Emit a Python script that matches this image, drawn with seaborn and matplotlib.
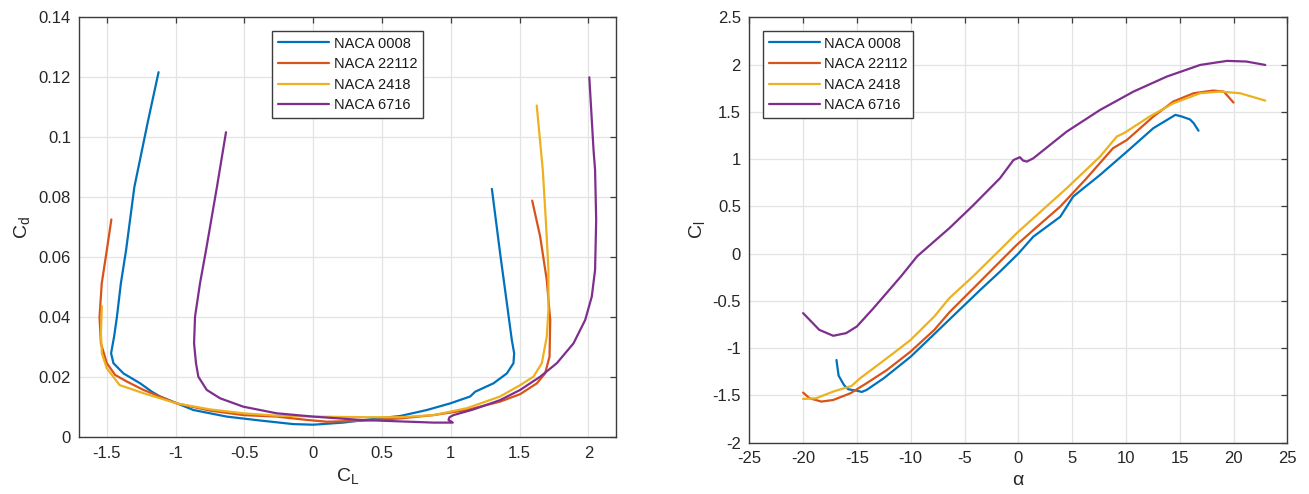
import numpy as np
import pandas as pd
import matplotlib
matplotlib.use('Agg')
import matplotlib.pyplot as plt
from matplotlib.ticker import FuncFormatter, MultipleLocator
import seaborn as sns

# airfoil names and MATLAB default colours
airfoils = ['NACA 0008', 'NACA 22112', 'NACA 2418', 'NACA 6716']
colors = ['#0072BD', '#D95319', '#EDB120', '#7E2F8E']

# drag polar data (CL, Cd), in order of increasing alpha
cl_0008 = [-1.124, -1.20, -1.30, -1.36, -1.398, -1.427, -1.447, -1.469, -1.452, -1.379, -1.258, -1.173,
           -1.113, -0.871, -0.629, -0.387, -0.145, 0.0, 0.218, 0.45, 0.632, 0.826, 0.995, 1.14, 1.177,
           1.31, 1.407, 1.455, 1.46, 1.443, 1.407, 1.358, 1.298]
cd_0008 = [0.1217, 0.1056, 0.0834, 0.0624, 0.0513, 0.040, 0.0336, 0.028, 0.0247, 0.0213, 0.018, 0.0152,
           0.0136, 0.0091, 0.0069, 0.0056, 0.0044, 0.0042, 0.0049, 0.0062, 0.0071, 0.0091, 0.0113, 0.0136,
           0.0152, 0.018, 0.0213, 0.0247, 0.028, 0.0324, 0.0447, 0.0613, 0.0828]

cl_22112 = [-1.467, -1.5, -1.537, -1.553, -1.543, -1.5, -1.44, -1.355, -1.234, -0.992, -0.75, -0.508,
            -0.266, -0.048, 0.097, 0.35, 0.632, 0.874, 1.116, 1.358, 1.504, 1.625, 1.685, 1.717, 1.722,
            1.697, 1.649, 1.591]
cd_22112 = [0.0726, 0.0624, 0.0513, 0.040, 0.0313, 0.0247, 0.0208, 0.0186, 0.0158, 0.0113, 0.0089, 0.0074,
            0.0069, 0.0058, 0.0052, 0.0055, 0.0063, 0.0074, 0.0091, 0.0119, 0.0144, 0.018, 0.0213, 0.0269,
            0.0391, 0.0524, 0.0669, 0.0789]

cl_2418 = [-1.536, -1.543, -1.536, -1.5, -1.407, -1.234, -0.992, -0.75, -0.508, -0.266, 0.0, 0.385, 0.632,
           0.874, 1.116, 1.358, 1.504, 1.6, 1.661, 1.697, 1.709, 1.709, 1.69, 1.668, 1.624]
cd_2418 = [0.0437, 0.0347, 0.028, 0.023, 0.0174, 0.0147, 0.0113, 0.0093, 0.008, 0.0072, 0.0069, 0.0067,
           0.0067, 0.0074, 0.0097, 0.0136, 0.0174, 0.0202, 0.0247, 0.0336, 0.0424, 0.0558, 0.0724, 0.0891,
           0.1106]

cl_6716 = [-0.634, -0.70, -0.779, -0.823, -0.859, -0.866, -0.852, -0.835, -0.774, -0.677, -0.508, -0.266,
           0.0, 0.339, 0.632, 0.874, 1.014, 0.983, 0.99, 1.019, 1.165, 1.358, 1.504, 1.649, 1.77, 1.891,
           1.976, 2.024, 2.048, 2.056, 2.048, 2.037, 2.006]
cd_6716 = [0.1017, 0.0834, 0.0624, 0.0513, 0.0402, 0.0313, 0.0247, 0.0202, 0.0158, 0.013, 0.0102, 0.008,
           0.0069, 0.0058, 0.0053, 0.0049, 0.0049, 0.0058, 0.0067, 0.0074, 0.0093, 0.0124, 0.0158, 0.0202,
           0.0247, 0.0313, 0.0391, 0.0469, 0.0558, 0.0724, 0.0891, 0.0956, 0.12]

# lift curve data (alpha, Cl)
al_0008 = [-16.9, -16.7, -16.2, -15.8, -15.0, -14.55, -14.1, -12.5, -10.0, -7.8, -5.7, -3.5, -1.7, 0.0,
           1.4, 3.9, 5.1, 7.6, 10.1, 12.55, 14.6, 15.2, 15.95, 16.3, 16.75]
lift_0008 = [-1.125, -1.29, -1.39, -1.435, -1.45, -1.463, -1.442, -1.318, -1.09, -0.85, -0.62, -0.38,
             -0.19, 0.0, 0.18, 0.39, 0.604, 0.833, 1.08, 1.327, 1.468, 1.45, 1.42, 1.38, 1.30]

al_22112 = [-20.0, -19.4, -18.3, -17.2, -15.6, -14.1, -12.2, -10.0, -7.8, -6.4, -4.2, -1.7, -0.15, 1.4,
            3.9, 6.35, 8.8, 10.1, 12.55, 14.4, 16.3, 18.1, 19.1, 20.0]
lift_22112 = [-1.47, -1.53, -1.565, -1.548, -1.477, -1.371, -1.23, -1.035, -0.806, -0.62, -0.37, -0.084,
              0.092, 0.25, 0.498, 0.798, 1.115, 1.203, 1.45, 1.609, 1.697, 1.725, 1.714, 1.598]

al_2418 = [-20.0, -18.8, -17.2, -15.5, -14.7, -13.45, -11.6, -10.0, -7.8, -6.4, -4.2, -1.7, -0.15, 1.4,
           4.5, 7.6, 9.15, 9.9, 12.2, 14.4, 16.9, 18.75, 20.6, 22.95]
lift_2418 = [-1.537, -1.53, -1.459, -1.40, -1.318, -1.212, -1.053, -0.912, -0.664, -0.47, -0.24, 0.04,
             0.216, 0.375, 0.692, 1.027, 1.238, 1.28, 1.45, 1.59, 1.697, 1.714, 1.697, 1.619]

al_6716 = [-20.0, -19.4, -18.5, -17.2, -16.0, -15.0, -13.45, -10.9, -9.4, -6.4, -4.2, -1.7, -0.45, 0.15,
           0.45, 0.8, 1.4, 4.5, 7.6, 10.7, 13.8, 16.9, 19.4, 21.2, 22.95]
lift_6716 = [-0.629, -0.70, -0.806, -0.869, -0.841, -0.77, -0.576, -0.24, -0.028, 0.27, 0.51, 0.798,
             0.99, 1.02, 0.984, 0.974, 1.009, 1.291, 1.52, 1.714, 1.873, 1.996, 2.039, 2.032, 1.996]

# build long tables for seaborn
polar = pd.concat([
    pd.DataFrame({'CL': x, 'Cd': y, 'airfoil': name})
    for name, x, y in zip(airfoils, [cl_0008, cl_22112, cl_2418, cl_6716],
                          [cd_0008, cd_22112, cd_2418, cd_6716])
], ignore_index=True)
lift = pd.concat([
    pd.DataFrame({'alpha': x, 'Cl': y, 'airfoil': name})
    for name, x, y in zip(airfoils, [al_0008, al_22112, al_2418, al_6716],
                          [lift_0008, lift_22112, lift_2418, lift_6716])
], ignore_index=True)

sns.set_theme(style='white')
plt.rcParams['font.family'] = ['Liberation Sans', 'DejaVu Sans']
plt.rcParams['mathtext.default'] = 'regular'
plt.rcParams['axes.unicode_minus'] = False

dark = '#262626'
fig = plt.figure(figsize=(13.09, 4.94), dpi=100)
W, H = 1309, 494
ax1 = fig.add_axes([79.3 / W, 1 - 437.3 / H, (616 - 79.3) / W, (437.3 - 17.3) / H])
ax2 = fig.add_axes([749.3 / W, 1 - 442.7 / H, (1287.3 - 749.3) / W, (442.7 - 17.3) / H])

sns.lineplot(data=polar, x='CL', y='Cd', hue='airfoil', palette=colors, sort=False,
             estimator=None, linewidth=1.6, ax=ax1)
sns.lineplot(data=lift, x='alpha', y='Cl', hue='airfoil', palette=colors, sort=False,
             estimator=None, linewidth=1.6, ax=ax2)

fmt = FuncFormatter(lambda v, p: '%g' % round(v, 4))
for ax in (ax1, ax2):
    ax.grid(True, color='#e3e3e3', linewidth=0.9)
    ax.set_axisbelow(True)
    for s in ax.spines.values():
        s.set_color('#3c3c3c')
        s.set_linewidth(1.0)
    ax.tick_params(direction='in', top=True, right=True, length=4.5, width=0.9,
                   color='#3c3c3c', labelcolor=dark, labelsize=12, pad=6)
    ax.xaxis.set_major_formatter(fmt)
    ax.yaxis.set_major_formatter(fmt)

ax1.set_xlim(-1.7, 2.2)
ax1.set_ylim(0, 0.14)
ax1.xaxis.set_major_locator(MultipleLocator(0.5))
ax1.yaxis.set_major_locator(MultipleLocator(0.02))
ax1.set_xlabel('$C_L$', fontsize=14, color=dark, labelpad=4)
ax1.set_ylabel('$C_d$', fontsize=14, color=dark, labelpad=5)

ax2.set_xlim(-25, 25)
ax2.set_ylim(-2, 2.5)
ax2.xaxis.set_major_locator(MultipleLocator(5))
ax2.yaxis.set_major_locator(MultipleLocator(0.5))
ax2.set_xlabel(r'$\alpha$', fontsize=14, color=dark, labelpad=4)
ax2.set_ylabel('$C_l$', fontsize=14, color=dark, labelpad=4)

for ax, anchor in ((ax1, (0.3596, 0.968)), (ax2, (0.0249, 0.9685))):
    handles, labels = ax.get_legend_handles_labels()
    ax.get_legend().remove()
    leg = ax.legend(handles, labels, loc='upper left', bbox_to_anchor=anchor, borderaxespad=0,
                    fancybox=False, framealpha=1, edgecolor='#3c3c3c', fontsize=10.5,
                    handlelength=3.5, handletextpad=0.3, labelspacing=0.45, borderpad=0.4)
    leg.get_frame().set_linewidth(1.0)
    for t in leg.get_texts():
        t.set_color('#1a1a1a')

fig.savefig('out.png', dpi=100)
